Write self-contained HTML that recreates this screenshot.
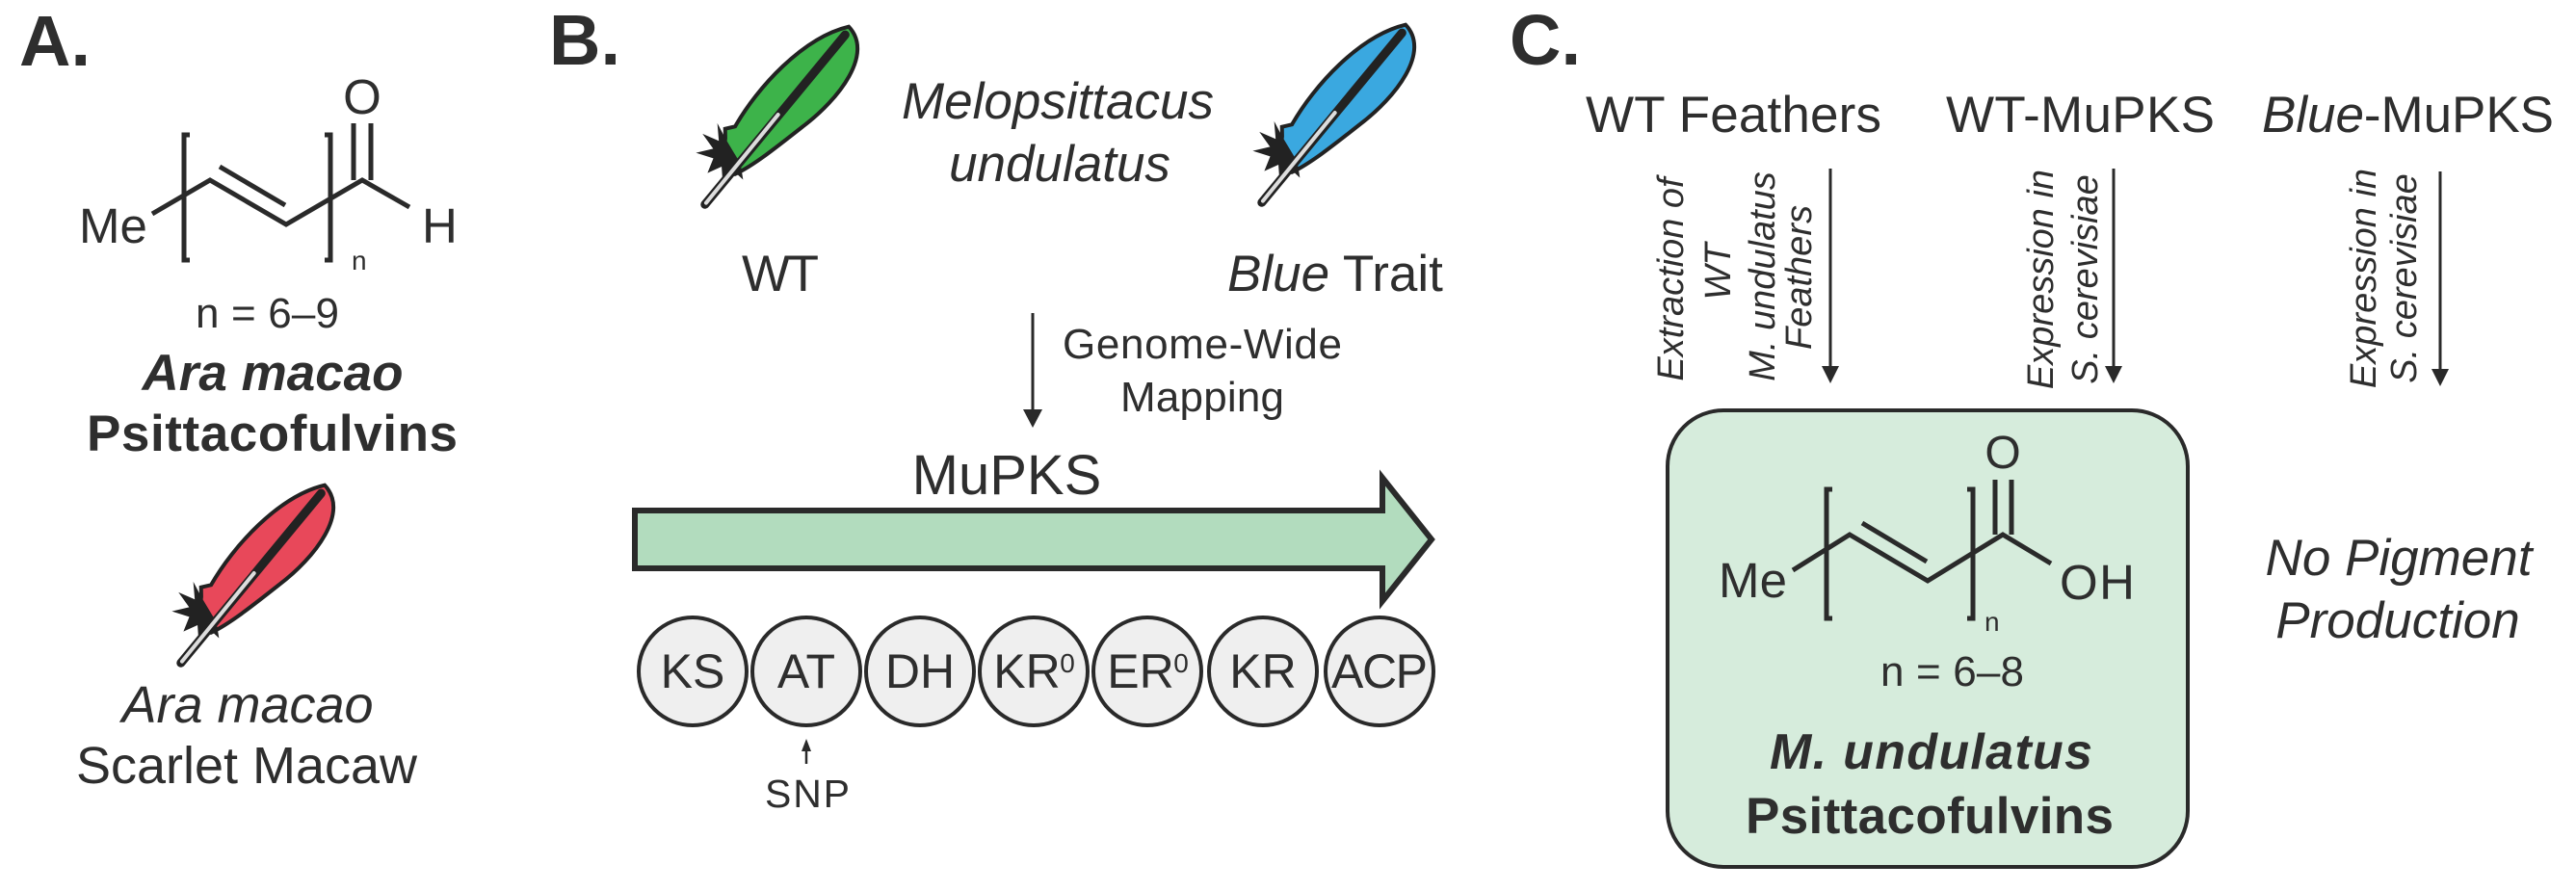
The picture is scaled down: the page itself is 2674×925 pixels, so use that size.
<!DOCTYPE html>
<html><head><meta charset="utf-8"><style>
html,body{margin:0;padding:0;background:#fff;}
svg{display:block;}
text{font-family:"Liberation Sans",Arial,sans-serif;fill:#2e2e2e;}
</style></head><body>
<svg width="2674" height="925" viewBox="0 0 2674 925" xmlns="http://www.w3.org/2000/svg">
<defs>
<g id="fb">
  <path d="M-32,72 l-16,-8 l12,14 l-18,4 l18,6 l-12,14 l18,-6 l4,16 l8,-14 l10,12 l0,-16 l16,2 l-12,-12 Z" fill="#222"/>
</g>
</defs>
<g stroke="#2a2a2a" fill="none" stroke-width="5" stroke-linecap="butt">
  <polyline points="158,222 218,187 297,233 376,187 425,215"/>
  <line x1="228" y1="173" x2="296" y2="213"/>
  <line x1="367" y1="128" x2="367" y2="187"/>
  <line x1="385" y1="128" x2="385" y2="187"/>
  <polyline points="197,140 191,140 191,270 197,270"/>
  <polyline points="337,140 343,140 343,270 337,270"/>
</g>
<text x="20" y="68" font-size="74" font-weight="bold">A.</text>
<text x="82" y="252" font-size="51">Me</text>
<text x="376" y="118" font-size="51" text-anchor="middle">O</text>
<text x="438" y="252" font-size="51">H</text>
<text x="365" y="280" font-size="28">n</text>
<text x="203" y="340" font-size="44" textLength="149">n = 6–9</text>
<text x="283" y="405" font-size="53" font-weight="bold" font-style="italic" text-anchor="middle">Ara macao</text>
<text x="90" y="468" font-size="53" font-weight="bold" textLength="385">Psittacofulvins</text>
<text x="257" y="750" font-size="54" font-style="italic" text-anchor="middle">Ara macao</text>
<text x="256" y="813" font-size="54" text-anchor="middle">Scarlet Macaw</text>

<g transform="translate(277,580) rotate(35.8)">
  <path d="M4,-97 C42,-90 40,-30 26,15 C16,50 8,78 -2,96 C-16,92 -26,84 -32,72 L-38,64 L-31,56 C-36,10 -28,-60 4,-97 Z" fill="#e8485a" stroke="#222" stroke-width="4"/>
  <use href="#fb"/>
  <line x1="-9" y1="140" x2="6" y2="-88" stroke="#222" stroke-width="9" stroke-linecap="round"/>
  <line x1="-9" y1="138" x2="-2" y2="20" stroke="#ddd" stroke-width="4" stroke-linecap="round"/>
</g>
<g transform="translate(821,104) rotate(35.8)">
  <path d="M4,-97 C42,-90 40,-30 26,15 C16,50 8,78 -2,96 C-16,92 -26,84 -32,72 L-38,64 L-31,56 C-36,10 -28,-60 4,-97 Z" fill="#3db34a" stroke="#222" stroke-width="4"/>
  <use href="#fb"/>
  <line x1="-9" y1="140" x2="6" y2="-88" stroke="#222" stroke-width="9" stroke-linecap="round"/>
  <line x1="-9" y1="138" x2="-2" y2="20" stroke="#ddd" stroke-width="4" stroke-linecap="round"/>
</g>
<g transform="translate(1399,102) rotate(35.8)">
  <path d="M4,-97 C42,-90 40,-30 26,15 C16,50 8,78 -2,96 C-16,92 -26,84 -32,72 L-38,64 L-31,56 C-36,10 -28,-60 4,-97 Z" fill="#3aa8e0" stroke="#222" stroke-width="4"/>
  <use href="#fb"/>
  <line x1="-9" y1="140" x2="6" y2="-88" stroke="#222" stroke-width="9" stroke-linecap="round"/>
  <line x1="-9" y1="138" x2="-2" y2="20" stroke="#ddd" stroke-width="4" stroke-linecap="round"/>
</g>

<text x="570" y="67" font-size="74" font-weight="bold">B.</text>
<text x="1098" y="123" font-size="53" font-style="italic" text-anchor="middle">Melopsittacus</text>
<text x="1100" y="188" font-size="53" font-style="italic" text-anchor="middle">undulatus</text>
<text x="770" y="302" font-size="53" textLength="80">WT</text>
<text x="1274" y="302" font-size="53"><tspan font-style="italic">Blue</tspan> Trait</text>
<line x1="1072" y1="325" x2="1072" y2="430" stroke="#2a2a2a" stroke-width="3"/>
<polygon points="1062,425 1082,425 1072,444" fill="#2a2a2a"/>
<text x="1103" y="372" font-size="44" textLength="290">Genome-Wide</text>
<text x="1163" y="427" font-size="44" textLength="170">Mapping</text>
<text x="1045" y="513" font-size="58" text-anchor="middle">MuPKS</text>
<polygon points="659,530 1435,530 1435,496 1486,560 1435,624 1435,590 659,590" fill="#b2dcbe" stroke="#2a2a2a" stroke-width="6"/>
<g fill="#efefef" stroke="#2a2a2a" stroke-width="4">
  <circle cx="719" cy="697" r="56"/>
  <circle cx="837" cy="697" r="56"/>
  <circle cx="955" cy="697" r="56"/>
  <circle cx="1073" cy="697" r="56"/>
  <circle cx="1191" cy="697" r="56"/>
  <circle cx="1311" cy="697" r="56"/>
  <circle cx="1432" cy="697" r="56"/>
</g>
<g font-size="50" text-anchor="middle">
  <text x="719" y="714">KS</text>
  <text x="837" y="714">AT</text>
  <text x="955" y="714">DH</text>
  <text x="1066" y="714">KR</text>
  <text x="1184" y="714">ER</text>
  <text x="1311" y="714">KR</text>
  <text x="1432" y="714" textLength="100">ACP</text>
</g>
<text x="1108" y="698" font-size="28" text-anchor="middle">0</text>
<text x="1226" y="698" font-size="28" text-anchor="middle">0</text>
<line x1="837" y1="793" x2="837" y2="778" stroke="#2a2a2a" stroke-width="2.5"/>
<polygon points="832,780 842,780 837,767" fill="#2a2a2a"/>
<text x="794" y="838" font-size="41" textLength="88">SNP</text>

<text x="1567" y="67" font-size="74" font-weight="bold">C.</text>
<text x="1646" y="137" font-size="53" textLength="307">WT Feathers</text>
<text x="2020" y="137" font-size="53" textLength="279">WT-MuPKS</text>
<text x="2348" y="137" font-size="53" textLength="303"><tspan font-style="italic">Blue</tspan>-MuPKS</text>
<g stroke="#2a2a2a" stroke-width="3">
  <line x1="1900" y1="175" x2="1900" y2="385"/>
  <line x1="2194" y1="175" x2="2194" y2="385"/>
  <line x1="2533" y1="178" x2="2533" y2="388"/>
</g>
<g fill="#2a2a2a">
  <polygon points="1891,380 1909,380 1900,398"/>
  <polygon points="2185,380 2203,380 2194,398"/>
  <polygon points="2524,383 2542,383 2533,401"/>
</g>
<g font-size="38" font-style="italic" text-anchor="middle">
  <text transform="translate(1747,290) rotate(-90)">Extraction of</text>
  <text transform="translate(1796,282) rotate(-90)">WT</text>
  <text transform="translate(1842,287) rotate(-90)">M. undulatus</text>
  <text transform="translate(1880,288) rotate(-90)">Feathers</text>
  <text transform="translate(2131,290) rotate(-90)">Expression in</text>
  <text transform="translate(2177,290) rotate(-90)">S. cerevisiae</text>
  <text transform="translate(2466,289) rotate(-90)">Expression in</text>
  <text transform="translate(2508,289) rotate(-90)">S. cerevisiae</text>
</g>
<rect x="1731" y="426" width="540" height="474" rx="58" ry="58" fill="#d6ecdc" stroke="#2a2a2a" stroke-width="4"/>
<g stroke="#2a2a2a" fill="none" stroke-width="5">
  <polyline points="1861,592 1920,555 2001,603 2079,555 2129,585"/>
  <line x1="1933" y1="543" x2="2000" y2="583"/>
  <line x1="2071" y1="498" x2="2071" y2="555"/>
  <line x1="2088" y1="498" x2="2088" y2="555"/>
  <polyline points="1902,508 1896,508 1896,642 1902,642"/>
  <polyline points="2042,508 2048,508 2048,642 2042,642"/>
</g>
<text x="1784" y="620" font-size="51" textLength="71">Me</text>
<text x="2079" y="486" font-size="48" text-anchor="middle">O</text>
<text x="2138" y="622" font-size="51" textLength="78">OH</text>
<text x="2060" y="655" font-size="28">n</text>
<text x="1952" y="712" font-size="44" textLength="149">n = 6–8</text>
<text x="1837" y="798" font-size="52" font-weight="bold" font-style="italic" textLength="335">M. undulatus</text>
<text x="1812" y="865" font-size="53" font-weight="bold" textLength="382">Psittacofulvins</text>
<text x="2490" y="597" font-size="53" font-style="italic" text-anchor="middle">No Pigment</text>
<text x="2489" y="662" font-size="53" font-style="italic" text-anchor="middle">Production</text>
</svg>
</body></html>
